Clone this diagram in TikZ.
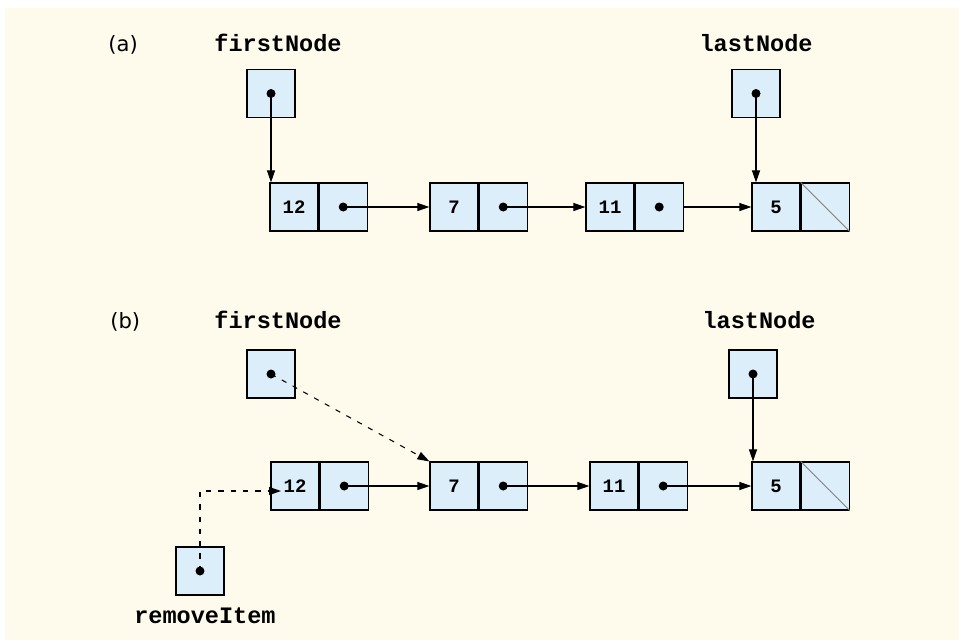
\documentclass[tikz,border=0pt]{standalone}
\usepackage{fontspec}
\setmonofont{Liberation Mono}
\newfontfamily\tagfont{DejaVu Sans}
\usetikzlibrary{positioning,arrows.meta}
\definecolor{paper}{RGB}{254,250,236}
\definecolor{cellblue}{RGB}{220,238,250}
\tikzset{
  cell/.style={draw, fill=cellblue, line width=0.7pt, minimum size=0.96cm, inner sep=0pt,
    font=\fontsize{10.8}{12}\selectfont\ttfamily\bfseries},
  ptr/.style={line width=0.6pt, -{Triangle[length=0.24cm,width=0.16cm]}},
  moved/.style={ptr, dash pattern=on 3pt off 4pt},
  varname/.style={font=\fontsize{13.4}{15}\selectfont\ttfamily\bfseries, anchor=base},
  tag/.style={font=\fontsize{12}{14}\selectfont\tagfont, anchor=base west, inner sep=0pt},
}
\newcommand{\dotin}[1]{\fill (#1) circle[radius=0.09cm];}
\begin{document}
\begin{tikzpicture}[x=0.02cm, y=-0.02cm, node distance=0pt]
    \useasboundingbox (0,0) rectangle (959,640);
    \fill[white] (0,0) rectangle (959,640);
    \fill[paper] (5,8) rectangle (959,640);

    % (a) the list
    \node[tag] (taga) at (108,51) {(a)};
    \node[varname] (firstA) at (278,51) {firstNode};
    \node[varname] (lastA) at (756,51) {lastNode};
    \node[cell] (fa) at (271,93.5) {};
    \node[cell] (la) at (756,93.5) {};

    \node[cell] (a12) at (294,207) {12};
    \node[cell, right=of a12] (a12p) {};
    \node[cell] (a7) at (454,207) {7};
    \node[cell, right=of a7] (a7p) {};
    \node[cell] (a11) at (610,207) {11};
    \node[cell, right=of a11] (a11p) {};
    \node[cell] (a5) at (776,207) {5};
    \node[cell, right=of a5] (a5n) {};
    \draw[gray, line width=0.5pt] (a5n.north west) -- (a5n.south east);

    \draw[ptr] (fa.center) -- (fa.center |- a12.north);
    \draw[ptr] (la.center) -- (la.center |- a5.north);
    \draw[ptr] (a12p.center) -- (a7.west);
    \draw[ptr] (a7p.center) -- (a11.west);
    \draw[ptr] (a11p.east) -- (a5.west);
    \foreach \n in {fa, la, a12p, a7p, a11p} {\dotin{\n}}

    % (b) after removing the first node
    \node[tag] (tagb) at (110,328) {(b)};
    \node[varname] (firstB) at (278,328) {firstNode};
    \node[varname] (lastB) at (759,328) {lastNode};
    \node[varname] (removeB) at (205,623) {removeItem};
    \node[cell] (fb) at (271,374) {};
    \node[cell] (lb) at (753,374) {};
    \node[cell] (rb) at (200,571) {};

    \node[cell] (b12) at (295,486) {12};
    \node[cell, right=of b12] (b12p) {};
    \node[cell] (b7) at (454,486) {7};
    \node[cell, right=of b7] (b7p) {};
    \node[cell] (b11) at (614,486) {11};
    \node[cell, right=of b11] (b11p) {};
    \node[cell] (b5) at (776,486) {5};
    \node[cell, right=of b5] (b5n) {};
    \draw[gray, line width=0.5pt] (b5n.north west) -- (b5n.south east);
    \coordinate (rtip) at (281,491);

    \draw[moved] (fb.center) -- (b7.north west);
    \draw[moved] (rb.center) |- (rtip);
    \draw[ptr] (lb.center) -- (lb.center |- b5.north);
    \draw[ptr] (b12p.center) -- (b7.west);
    \draw[ptr] (b7p.center) -- (b11.west);
    \draw[ptr] (b11p.center) -- (b5.west);
    \foreach \n in {fb, lb, rb, b12p, b7p, b11p} {\dotin{\n}}
\end{tikzpicture}
\end{document}
